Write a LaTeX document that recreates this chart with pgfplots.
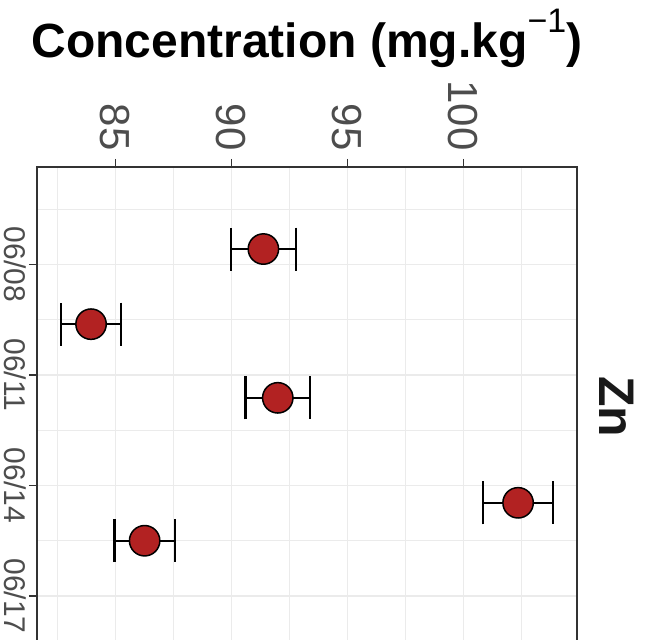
\documentclass[border=0pt]{standalone}
\usepackage{fontspec}
\setmainfont{Liberation Sans}
\usepackage{pgfplots}
\pgfplotsset{compat=1.18}
\definecolor{gridc}{HTML}{EBEBEB}
\definecolor{framec}{HTML}{333333}
\definecolor{ticktext}{HTML}{4D4D4D}
\definecolor{ptfill}{HTML}{B22222}

% concentration, day of June, half error
\pgfplotstableread{
v      d      e
91.38  7.58   1.40
83.95  9.62   1.30
92.00  11.62  1.40
102.36 14.47  1.50
86.26  15.50  1.30
}\zn

\begin{document}
\begin{tikzpicture}
\useasboundingbox (-18.5pt,0pt) rectangle (307.5pt,320pt);
\begin{axis}[
  at={(0,0)}, anchor=south west,
  scale only axis, width=270pt, height=236.5pt,
  xmin=81.62, xmax=104.9,
  ymin=5.353, ymax=18.195, y dir=reverse,
  xtick={85,90,95,100},
  minor xtick={82.5,87.5,92.5,97.5,102.5},
  ytick={8,11,14,17},
  yticklabels={06/08,06/11,06/14,06/17},
  minor ytick={6.5,9.5,12.5,15.5},
  grid=both,
  major grid style={gridc, line width=0.75pt},
  minor grid style={gridc, line width=0.45pt},
  axis line style={draw=none},
  xtick pos=upper, xticklabel pos=upper,
  ytick pos=left, yticklabel pos=left,
  tick align=outside,
  major tick length=4pt,
  minor tick length=0pt,
  tick style={framec, line width=0.55pt},
  xticklabel style={font=\fontsize{21}{21}\selectfont, text=ticktext,
    rotate=-90, anchor=east, inner sep=0pt},
  yticklabel style={font=\fontsize{15}{15}\selectfont, text=ticktext,
    rotate=-90, anchor=north, inner sep=0pt},
  xticklabel shift=4pt,
  yticklabel shift=1pt,
  /pgf/number format/assume math mode=true,
  clip=false,
]
\addplot[forget plot, only marks, mark=none,
  error bars/.cd, x dir=both, x explicit,
  error bar style={draw=black, line width=1.2pt},
  error mark options={draw=black, line width=1.2pt, mark size=10.75pt, rotate=90}]
  table[x=v, y=d, x error=e] {\zn};
\addplot[only marks, mark=*, mark size=7.6pt,
  mark options={fill=ptfill, draw=black, line width=0.75pt}]
  table[x=v, y=d] {\zn};
\draw[framec, line width=0.6pt]
  (axis cs:81.62,18.195) -- (axis cs:81.62,5.353)
  -- (axis cs:104.9,5.353) -- (axis cs:104.9,18.195);
\end{axis}
\node[font=\bfseries\fontsize{24}{24}\selectfont, anchor=base]
  at (135pt,291pt) {Concentration (mg.kg\raisebox{12.5pt}{\mdseries\fontsize{17}{17}\selectfont −1})};
\node[font=\bfseries\fontsize{25}{25}\selectfont, rotate=-90, text=black!90]
  at (290pt,116.5pt) {Zn};
\end{tikzpicture}
\end{document}
